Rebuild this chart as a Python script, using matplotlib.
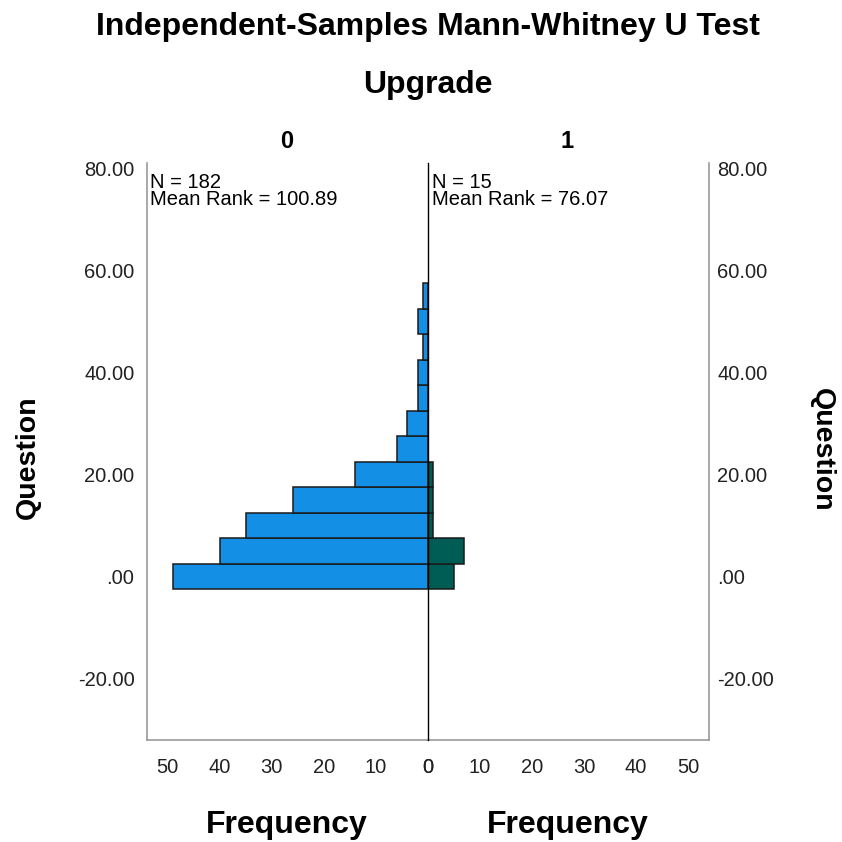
import matplotlib
matplotlib.use("Agg")
import matplotlib.pyplot as plt

plt.rcParams["font.family"] = ["Liberation Sans", "DejaVu Sans"]

# ── data ───────────────────────────────────────────────────────────────
bin_centers = [0, 5, 10, 15, 20, 25, 30, 35, 40, 45, 50, 55]
counts_0 = [49, 40, 35, 26, 14, 6, 4, 2, 2, 1, 2, 1]      # Upgrade = 0
counts_1 = [5, 7, 1, 1, 1, 0, 0, 0, 0, 0, 0, 0]           # Upgrade = 1
bin_width = 5
y_ticks = [-20, 0, 20, 40, 60, 80]
y_labels = ["-20.00", ".00", "20.00", "40.00", "60.00", "80.00"]
x_ticks = [0, 10, 20, 30, 40, 50]
group_labels = ["0", "1"]
group_stats = ["N = 182\nMean Rank = 100.89", "N = 15\nMean Rank = 76.07"]

W, H = 842, 842
fig = plt.figure(figsize=(W / 100, H / 100), dpi=100)

def px(x0, y0, x1, y1):
    return [x0 / W, 1 - y1 / H, (x1 - x0) / W, (y1 - y0) / H]

ax_l = fig.add_axes(px(147, 163, 428, 740))
ax_r = fig.add_axes(px(428, 163, 709, 740), sharey=ax_l)

ax_l.barh(bin_centers, counts_0, height=bin_width, color="#1390e6",
          edgecolor="#1a1a1a", linewidth=1.1, zorder=2)
ax_r.barh(bin_centers, counts_1, height=bin_width, color="#005d55",
          edgecolor="#1a1a1a", linewidth=1.1, zorder=2)

ax_l.set_xlim(54, 0)
ax_r.set_xlim(0, 54)
ax_l.set_ylim(-32, 81)

TICK_FS = 14.5
for ax in (ax_l, ax_r):
    ax.set_xticks(x_ticks)
    ax.set_xticklabels([str(t) for t in x_ticks], fontsize=TICK_FS, color="#222222")
    ax.tick_params(axis="both", length=0, pad=13)
    ax.spines["top"].set_visible(False)
    ax.spines["bottom"].set_color("#999999")
    ax.spines["bottom"].set_linewidth(1.2)

ax_l.set_yticks(y_ticks)
ax_l.set_yticklabels(y_labels, fontsize=TICK_FS, color="#222222")
ax_l.tick_params(axis="y", pad=9)
ax_l.spines["left"].set_color("#999999")
ax_l.spines["left"].set_linewidth(1.2)
ax_l.spines["right"].set_visible(False)

# centre divider drawn by the right panel so it sits on top
ax_r.spines["left"].set_color("black")
ax_r.spines["left"].set_linewidth(1.0)
ax_r.spines["left"].set_zorder(3)
ax_r.spines["right"].set_color("#999999")
ax_r.spines["right"].set_linewidth(1.2)
ax_r.yaxis.tick_right()
ax_r.tick_params(axis="y", labelright=True, labelleft=False, pad=6)
for lab in ax_r.get_yticklabels():
    lab.set_fontsize(TICK_FS)
    lab.set_color("#222222")

# stats in each panel
ax_l.text(0.01, 0.983, group_stats[0], transform=ax_l.transAxes, ha="left",
          va="top", fontsize=14.5, linespacing=0.88)
ax_r.text(0.015, 0.983, group_stats[1], transform=ax_r.transAxes, ha="left",
          va="top", fontsize=14.5, linespacing=0.88)

# titles and labels
fig.text(428 / W, 1 - 27 / H, "Independent-Samples Mann-Whitney U Test",
         ha="center", va="center", fontsize=23, fontweight="bold")
fig.text(428 / W, 1 - 85 / H, "Upgrade", ha="center", va="center",
         fontsize=23, fontweight="bold")
fig.text(287 / W, 1 - 141 / H, group_labels[0], ha="center", va="center",
         fontsize=17, fontweight="bold")
fig.text(567 / W, 1 - 141 / H, group_labels[1], ha="center", va="center",
         fontsize=17, fontweight="bold")
fig.text(28 / W, 1 - 457 / H, "Question", ha="center", va="center",
         rotation=90, fontsize=20.5, fontweight="bold")
fig.text(822 / W, 1 - 450 / H, "Question", ha="center", va="center",
         rotation=270, fontsize=20.5, fontweight="bold")
fig.text(287 / W, 1 - 825 / H, "Frequency", ha="center", va="center",
         fontsize=23, fontweight="bold")
fig.text(568 / W, 1 - 825 / H, "Frequency", ha="center", va="center",
         fontsize=23, fontweight="bold")

fig.savefig("out.png", dpi=100)
